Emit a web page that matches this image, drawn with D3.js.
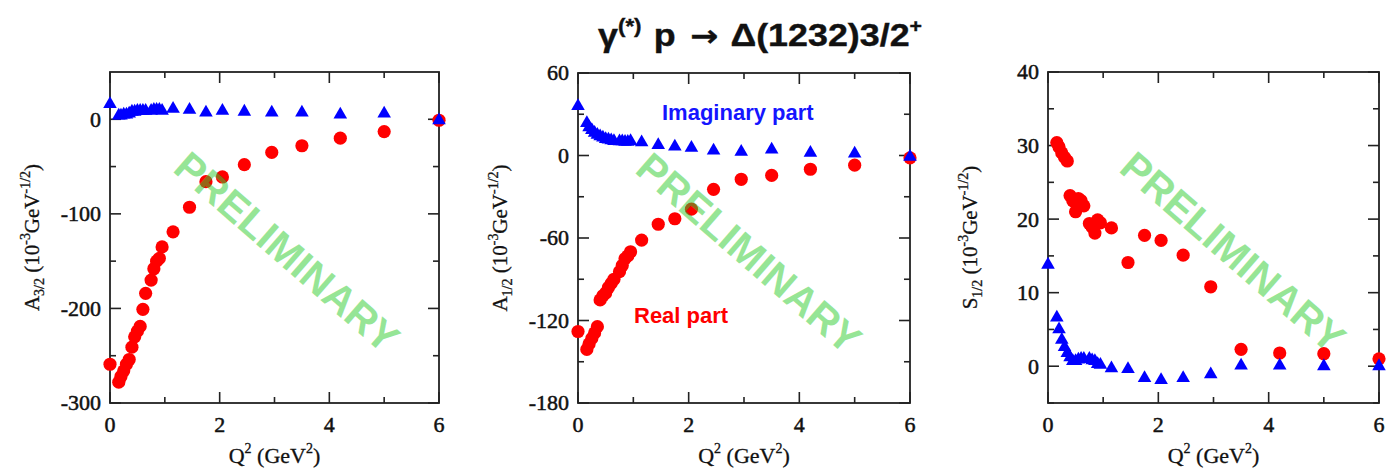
<!DOCTYPE html>
<html>
<head>
<meta charset="utf-8">
<script src="https://cdn.jsdelivr.net/npm/d3@7"></script>
<style>
  html, body { margin: 0; padding: 0; background: #fff; }
  svg { display: block; }
</style>
</head>
<body>
<svg id="chart" width="1388" height="472"></svg>
<script>
// Q^2 points (GeV^2) shared by all amplitudes
const q2 = [0, 0.16, 0.2, 0.25, 0.3, 0.35, 0.4, 0.45, 0.5, 0.55, 0.6, 0.65, 0.75, 0.8, 0.85, 0.9, 0.95,
            1.15, 1.45, 1.75, 2.05, 2.45, 2.95, 3.5, 4.2, 5.0, 6.0];

// A3/2 (10^-3 GeV^-1/2)
const a32Real = [-259, -278, -272, -266, -259, -254, -241, -230, -224, -219, -201, -184, -170, -158, -150, -147, -135,
                 -119, -93, -66, -61, -48, -35, -28, -20, -13, -1];
const a32Imag = [16, 4, 4, 5, 5, 6, 8, 8, 9, 9, 9, 9, 9, 10, 10, 10, 9,
                 11, 10, 7, 9, 8, 7, 7, 5, 6, -1];

// A1/2 (10^-3 GeV^-1/2)
const a12Real = [-128, -141, -137, -133, -129, -124.5, -105, -102, -100, -96, -93, -90, -84.5, -80, -75, -73, -70,
                 -61.5, -50, -46, -39, -24.6, -17.3, -14.5, -10, -7, -1.7];
const a12Imag = [36, 23.5, 20.5, 18.5, 16.5, 15, 14, 13, 12, 11.5, 11, 10.5, 10.3, 10.3, 10, 10, 10.5,
                 9.5, 7.5, 6.5, 5.5, 3.6, 2.6, 4.3, 2, 1.4, -1];

// S1/2 (10^-3 GeV^-1/2); no real-part point at the photon point
const s12Real = [null, 30.4, 29.8, 29.0, 28.4, 27.9, 23.2, 22.5, 21.0, 22.8, 22.5, 21.8, 19.4, 18.9, 18.1, 19.9, 19.5,
                 18.8, 14.1, 17.8, 17.1, 15.1, 10.8, 2.3, 1.8, 1.7, 1.0];
const s12Imag = [13.8, 6.6, 5.0, 3.6, 2.6, 1.8, 1.2, 0.7, 0.7, 0.9, 1.0, 1.0, 1.0, 0.8, 0.7, 0.3, 0.2,
                 -0.3, -0.4, -1.6, -1.9, -1.6, -1.1, 0.1, 0.1, 0.0, 0.0];

// Axis ranges and tick values
const xDomain = [0, 6];
const xMajor = [0, 2, 4, 6];
const xMinor = [1, 3, 5];
const a32Domain = [-300, 50];
const a32Major = [-300, -200, -100, 0];
const a32Minor = [-250, -150, -50];
const a12Domain = [-180, 60];
const a12Major = [-180, -120, -60, 0, 60];
const a12Minor = [-150, -90, -30, 30];
const s12Domain = [-5, 40];
const s12Major = [0, 10, 20, 30, 40];
const s12Minor = [-5, 5, 15, 25, 35];

const titleText = "Δ(1232)3/2";
const realLabel = "Real part";
const imagLabel = "Imaginary part";
const watermark = "PRELIMINARY";

const RED = "#ff0000";
const BLUE = "#0000ff";
const SERIF = "'Liberation Serif', 'Times New Roman', serif";
const SANS = "'Liberation Sans', Arial, sans-serif";

const svg = d3.select("#chart");

// Title (slightly widened sans face)
const title = svg.append("text")
  .attr("transform", "translate(760,46) scale(1.12,1)")
  .attr("text-anchor", "middle")
  .attr("font-family", SANS).attr("font-weight", "bold").attr("font-size", 32)
  .attr("fill", "#111").attr("stroke", "#111").attr("stroke-width", 0.4);
title.append("tspan").text("γ");
title.append("tspan").attr("font-size", 20).attr("dy", -13).text("(*)");
title.append("tspan").attr("dy", 13).attr("dx", 2).text(" p ");
title.append("tspan").attr("dx", 4).attr("font-family", "'DejaVu Sans', sans-serif").attr("font-size", 30).text("→");
title.append("tspan").attr("dx", 2).text(" " + titleText);
title.append("tspan").attr("font-size", 19).attr("dy", -14).text("+");

const panels = [
  { left: 110, right: 439, top: 72, bottom: 403, domain: a32Domain, major: a32Major, minor: a32Minor,
    real: a32Real, imag: a32Imag, sym: "A", sub: "3/2", wmx: 287, wmy: 252 },
  { left: 578, right: 910, top: 73, bottom: 403, domain: a12Domain, major: a12Major, minor: a12Minor,
    real: a12Real, imag: a12Imag, sym: "A", sub: "1/2", wmx: 749, wmy: 253 },
  { left: 1048, right: 1379, top: 72, bottom: 403, domain: s12Domain, major: s12Major, minor: s12Minor,
    real: s12Real, imag: s12Imag, sym: "S", sub: "1/2", wmx: 1233, wmy: 252 }
];

const MAJ = 11, MIN = 6;
const circle = d3.symbol().type(d3.symbolCircle).size(Math.PI * 6.6 * 6.6);
const tri = d3.symbol().type(d3.symbolTriangle).size(80);

panels.forEach((p, i) => {
  const x = d3.scaleLinear().domain(xDomain).range([p.left, p.right]);
  const y = d3.scaleLinear().domain(p.domain).range([p.bottom, p.top]);
  const g = svg.append("g");

  // Ticks on all four sides, pointing inward
  const tickG = g.append("g").attr("stroke", "#222").attr("stroke-width", 1.6);
  const xt = xMajor.map(v => ({ v, len: MAJ })).concat(xMinor.map(v => ({ v, len: MIN })));
  const yt = p.major.map(v => ({ v, len: MAJ })).concat(p.minor.map(v => ({ v, len: MIN })));
  xt.forEach(t => {
    tickG.append("line").attr("x1", x(t.v)).attr("x2", x(t.v)).attr("y1", p.bottom).attr("y2", p.bottom - t.len);
    tickG.append("line").attr("x1", x(t.v)).attr("x2", x(t.v)).attr("y1", p.top).attr("y2", p.top + t.len);
  });
  yt.forEach(t => {
    tickG.append("line").attr("y1", y(t.v)).attr("y2", y(t.v)).attr("x1", p.left).attr("x2", p.left + t.len);
    tickG.append("line").attr("y1", y(t.v)).attr("y2", y(t.v)).attr("x1", p.right).attr("x2", p.right - t.len);
  });

  // Frame
  g.append("rect")
    .attr("x", p.left).attr("y", p.top)
    .attr("width", p.right - p.left).attr("height", p.bottom - p.top)
    .attr("fill", "none").attr("stroke", "#222").attr("stroke-width", 1.8);

  // Tick labels
  const lab = g.append("g").attr("font-family", SERIF).attr("font-size", 22)
    .attr("fill", "#111").attr("stroke", "#111").attr("stroke-width", 0.5);
  xMajor.forEach(v => {
    lab.append("text").attr("x", x(v)).attr("y", p.bottom + 29).attr("text-anchor", "middle").text(String(v));
  });
  p.major.forEach(v => {
    lab.append("text").attr("x", p.left - 9).attr("y", y(v)).attr("dy", "0.34em")
      .attr("text-anchor", "end").text(String(v));
  });

  // Axis titles
  const xt2 = g.append("text")
    .attr("x", (p.left + p.right) / 2).attr("y", 463)
    .attr("text-anchor", "middle").attr("font-family", SERIF).attr("font-size", 22)
    .attr("fill", "#111").attr("stroke", "#111").attr("stroke-width", 0.3);
  xt2.append("tspan").text("Q");
  xt2.append("tspan").attr("font-size", 14).attr("dy", -10).text("2");
  xt2.append("tspan").attr("dy", 10).text(" (GeV");
  xt2.append("tspan").attr("font-size", 14).attr("dy", -10).text("2");
  xt2.append("tspan").attr("dy", 10).text(")");

  const yt2 = g.append("text")
    .attr("transform", `translate(${p.left - 71},${(p.top + p.bottom) / 2}) rotate(-90)`)
    .attr("text-anchor", "middle").attr("font-family", SERIF).attr("font-size", 21)
    .attr("fill", "#111").attr("stroke", "#111").attr("stroke-width", 0.3);
  yt2.append("tspan").text(p.sym);
  yt2.append("tspan").attr("font-size", 14).attr("dy", 5).text(p.sub);
  yt2.append("tspan").attr("dy", -5).text(" (10");
  yt2.append("tspan").attr("font-size", 14).attr("dy", -9).text("-3");
  yt2.append("tspan").attr("dy", 9).text("GeV");
  yt2.append("tspan").attr("font-size", 14).attr("dy", -9).text("-1/2");
  yt2.append("tspan").attr("dy", 9).text(")");

  // Real part (red circles)
  const realPts = q2.map((q, k) => ({ q, v: p.real[k] })).filter(d => d.v !== null);
  g.append("g").selectAll("path").data(realPts).join("path")
    .attr("d", circle)
    .attr("transform", d => `translate(${x(d.q)},${y(d.v)})`)
    .attr("fill", RED);

  // Imaginary part (blue triangles)
  const imagPts = q2.map((q, k) => ({ q, v: p.imag[k] })).filter(d => d.v !== null);
  g.append("g").selectAll("path").data(imagPts).join("path")
    .attr("d", tri)
    .attr("transform", d => `translate(${x(d.q)},${y(d.v)})`)
    .attr("fill", BLUE);

  // Series labels in the middle panel
  if (i === 1) {
    g.append("text").attr("x", 662).attr("y", 120)
      .attr("font-family", SANS).attr("font-weight", "bold").attr("font-size", 22)
      .attr("fill", "#1515ff").text(imagLabel);
    g.append("text").attr("x", 634).attr("y", 323)
      .attr("font-family", SANS).attr("font-weight", "bold").attr("font-size", 22)
      .attr("fill", RED).text(realLabel);
  }

  // Watermark
  g.append("text")
    .attr("transform", `translate(${p.wmx},${p.wmy}) rotate(41)`)
    .attr("text-anchor", "middle").attr("dy", "0.35em")
    .attr("font-family", SANS).attr("font-weight", "bold").attr("font-size", 41)
    .attr("fill", "#2ecc2e").attr("fill-opacity", 0.5)
    .text(watermark);
});
</script>
</body>
</html>
